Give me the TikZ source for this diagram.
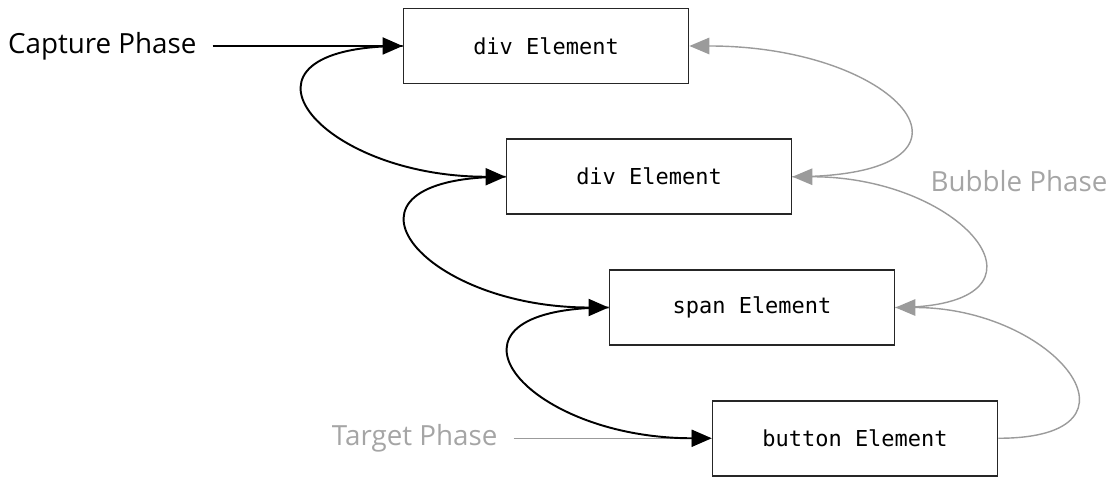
\documentclass[tikz,border=0pt]{standalone}
\usepackage{fontspec}
\setmainfont{Open Sans}
\newfontfamily\elemfont{DejaVu Sans Mono}
\usetikzlibrary{arrows.meta, positioning}
\definecolor{bubblegray}{RGB}{155,155,155}
\definecolor{labelgray}{RGB}{165,165,165}

\begin{document}
\begin{tikzpicture}[
  elem/.style={rectangle, draw=black!85, line width=1pt, minimum width=5.7cm, minimum height=1.5cm,
    text centered, fill=white, font=\fontsize{12.5}{15}\elemfont},
  phase/.style={font=\fontsize{15.8}{19}\selectfont, inner xsep=9pt},
  caparrow/.style={-{Triangle[length=4mm, width=3.4mm]}, line width=1.1pt},
  bubarrow/.style={-{Triangle[length=4mm, width=3.3mm]}, line width=0.8pt, draw=bubblegray}
]
\useasboundingbox (0,0) rectangle (22.26,9.54);

% elements
\node (div1) [elem] at (10.92,8.62) {div Element};
\node (div2) [elem, below=1.08cm of div1, xshift=2.06cm] {div Element};
\node (span) [elem, below=1.08cm of div2, xshift=2.06cm] {span Element};
\node (button) [elem, below=1.08cm of span, xshift=2.06cm] {button Element};

% phase labels
\node (capture) [phase, left=3.8cm of div1] {Capture Phase};
\node (target) [phase, text=labelgray, left=3.96cm of button] {Target Phase};
\node (bubble) [phase, text=labelgray, right=2.44cm of div2, yshift=-0.09cm] {Bubble Phase};

% bubble phase (up the right side)
\draw [bubarrow] (target) -- (button);
\draw [bubarrow] (button.east) .. controls +(3.2,0) and +(3.2,0) .. (span.east);
\draw [bubarrow] (span.east) .. controls +(3.5,0) and +(3.5,0) .. (div2.east);
\draw [bubarrow] (div2.east) .. controls +(4.3,0) and +(4.3,0) .. (div1.east);

% capture phase (down the left side)
\draw [caparrow] (capture) -- (div1);
\draw [caparrow] (div1.west) .. controls +(-3.8,0) and +(-3.8,0) .. (div2.west);
\draw [caparrow] (div2.west) .. controls +(-3.8,0) and +(-3.8,0) .. (span.west);
\draw [caparrow] (span.west) .. controls +(-3.8,0) and +(-3.8,0) .. (button.west);

\end{tikzpicture}
\end{document}
